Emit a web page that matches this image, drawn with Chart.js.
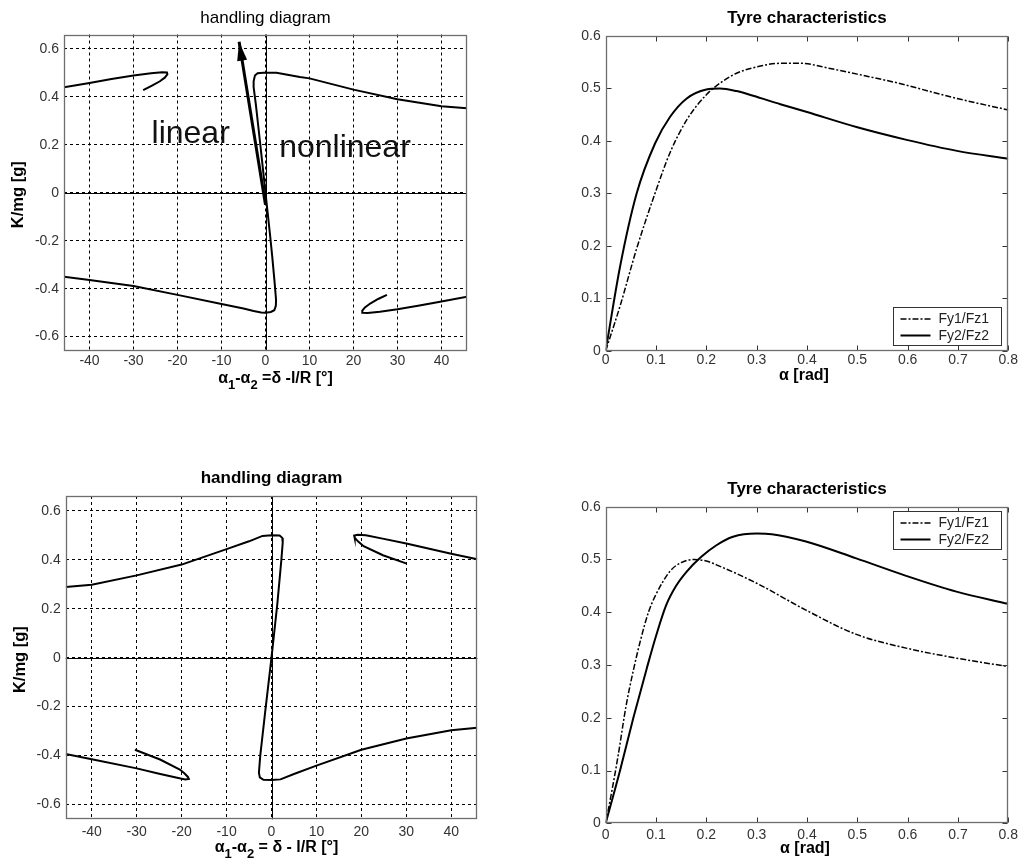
<!DOCTYPE html>
<html>
<head>
<meta charset="utf-8">
<script src="https://cdn.jsdelivr.net/npm/chart.js@4.4.1/dist/chart.umd.min.js"></script>
<style>
  html, body { margin: 0; padding: 0; background: #fff; }
  body { width: 1021px; height: 864px; position: relative; overflow: hidden; }
  canvas { position: absolute; }
</style>
</head>
<body>
<canvas id="hd1" width="510" height="430" style="left:0;top:0"></canvas>
<canvas id="ty1" width="511" height="430" style="left:510px;top:0"></canvas>
<canvas id="hd2" width="510" height="434" style="left:0;top:430px"></canvas>
<canvas id="ty2" width="511" height="434" style="left:510px;top:430px"></canvas>
<script>
// ticks
const hdTicksX = [-40, -30, -20, -10, 0, 10, 20, 30, 40];
const hdTicksY = [-0.6, -0.4, -0.2, 0, 0.2, 0.4, 0.6];
const tyTicksX = [0, 0.1, 0.2, 0.3, 0.4, 0.5, 0.6, 0.7, 0.8];
const tyTicksY = [0, 0.1, 0.2, 0.3, 0.4, 0.5, 0.6];

// handling diagram 1 (top)
const hd1MainX = [-45.8, -40, -30, -20, -10, -5, -2.7, -1, 0, 1.2, 2.0, 2.35, 2.4, 2.1, 1.5, 1.0, 0.5, 0, -0.5, -1.0, -1.6, -2.2, -2.7, -2.7, -2.4, -1.8, -0.5, 2.5, 7.8, 10, 20, 30, 40, 45.8];
const hd1MainY = [-0.35, -0.364, -0.389, -0.426, -0.464, -0.483, -0.493, -0.499, -0.5, -0.497, -0.49, -0.472, -0.447, -0.38, -0.26, -0.17, -0.085, 0, 0.085, 0.17, 0.27, 0.37, 0.44, 0.465, 0.489, 0.498, 0.5, 0.5, 0.483, 0.477, 0.43, 0.39, 0.361, 0.352];
const hd1UpperX = [-45.8, -40, -35, -30, -26, -23.5, -22.4, -22.3, -22.9, -24, -25.8, -27.8];
const hd1UpperY = [0.44, 0.458, 0.474, 0.489, 0.498, 0.503, 0.502, 0.494, 0.48, 0.465, 0.447, 0.428];
const hd1LowerX = [45.8, 40, 35, 30, 26, 23.2, 22.1, 22.0, 22.6, 23.8, 25.6, 27.6];
const hd1LowerY = [-0.434, -0.454, -0.47, -0.486, -0.496, -0.501, -0.5, -0.492, -0.478, -0.462, -0.443, -0.426];
const hd1ArrowX = [0, -6.0];
const hd1ArrowY = [-0.05, 0.63];

// handling diagram 2 (bottom)
const hd2MainX = [-45.8, -40, -30, -20, -10, -5, -2, 0, 1.8, 2.4, 2.5, 2.2, 1.3, 0, -1.4, -2.5, -2.8, -2.6, -1.8, 0, 2, 5, 10, 20, 30, 40, 45.8];
const hd2MainY = [0.288, 0.298, 0.336, 0.38, 0.443, 0.475, 0.497, 0.5, 0.499, 0.489, 0.47, 0.4, 0.22, 0, -0.22, -0.4, -0.47, -0.489, -0.499, -0.5, -0.497, -0.475, -0.441, -0.376, -0.33, -0.296, -0.286];
const hd2UpperX = [45.8, 40, 30, 25, 21, 19.2, 18.4, 18.5, 19.3, 20.5, 24.8, 30.1];
const hd2UpperY = [0.402, 0.424, 0.466, 0.485, 0.5, 0.502, 0.499, 0.49, 0.474, 0.455, 0.418, 0.384];
const hd2LowerX = [-45.8, -40, -30, -25, -21, -19.2, -18.4, -18.6, -19.4, -20.4, -24.8, -30.4];
const hd2LowerY = [-0.393, -0.415, -0.452, -0.474, -0.49, -0.497, -0.495, -0.487, -0.472, -0.457, -0.416, -0.376];

// tyre characteristics 1 (top)
const ty1Fy1X = [0, 0.0285, 0.0616, 0.098, 0.128, 0.161, 0.2, 0.23, 0.26, 0.3, 0.347, 0.386, 0.446, 0.506, 0.595, 0.645, 0.711, 0.8];
const ty1Fy1Y = [0, 0.085, 0.195, 0.30, 0.378, 0.44, 0.488, 0.512, 0.529, 0.541, 0.548, 0.548, 0.538, 0.526, 0.507, 0.494, 0.478, 0.459];
const ty1Fy2X = [0, 0.0285, 0.0616, 0.098, 0.128, 0.161, 0.2, 0.227, 0.26, 0.293, 0.347, 0.4, 0.5, 0.598, 0.698, 0.8];
const ty1Fy2Y = [0, 0.16, 0.30, 0.395, 0.446, 0.481, 0.498, 0.5, 0.495, 0.486, 0.470, 0.455, 0.426, 0.402, 0.381, 0.366];

// tyre characteristics 2 (bottom)
const ty2Fy1X = [0, 0.012, 0.025, 0.04, 0.055, 0.07, 0.085, 0.098, 0.128, 0.15, 0.175, 0.2, 0.227, 0.3, 0.398, 0.498, 0.597, 0.697, 0.8];
const ty2Fy1Y = [0, 0.06, 0.13, 0.22, 0.29, 0.35, 0.40, 0.43, 0.478, 0.494, 0.5, 0.497, 0.487, 0.455, 0.404, 0.358, 0.332, 0.313, 0.297];
const ty2Fy2X = [0, 0.0285, 0.055, 0.082, 0.1, 0.12, 0.14, 0.161, 0.19, 0.22, 0.253, 0.3, 0.33, 0.398, 0.498, 0.597, 0.697, 0.8];
const ty2Fy2Y = [0, 0.1, 0.2, 0.295, 0.355, 0.413, 0.45, 0.477, 0.505, 0.527, 0.543, 0.549, 0.548, 0.534, 0.502, 0.469, 0.439, 0.416];

const FONT = '"Liberation Sans", Arial, sans-serif';
const pts = (xs, ys) => xs.map((x, i) => ({ x: x, y: ys[i] }));

const line = (xs, ys, extra) => Object.assign({
  data: pts(xs, ys), showLine: true, pointRadius: 0, borderColor: '#000',
  borderWidth: 2, fill: false, tension: 0
}, extra || {});

// draws the matlab style extras: frame, titles, legend, zero lines...
function matlabPlugin(cfg) {
  return {
    id: 'matlab',
    beforeDatasetsDraw(chart) {
      if (!cfg.zeroLines) return;
      const { ctx, chartArea: a, scales: { x, y } } = chart;
      ctx.save();
      ctx.strokeStyle = '#000';
      ctx.lineWidth = 1;
      const px = Math.round(x.getPixelForValue(0)) + 0.5;
      const py = Math.round(y.getPixelForValue(0)) + 0.5;
      ctx.beginPath();
      ctx.moveTo(px, a.top); ctx.lineTo(px, a.bottom);
      ctx.moveTo(a.left, py); ctx.lineTo(a.right, py);
      ctx.stroke();
      ctx.restore();
    },
    afterDatasetsDraw(chart) {
      const { ctx, scales: { x, y } } = chart;
      ctx.save();
      if (cfg.arrow) {
        const [x0, x1] = cfg.arrow[0], [y0, y1] = cfg.arrow[1];
        const ax = x.getPixelForValue(x0), ay = y.getPixelForValue(y0);
        const bx = x.getPixelForValue(x1), by = y.getPixelForValue(y1);
        const ang = Math.atan2(by - ay, bx - ax);
        const L = 19, W = 5;
        ctx.fillStyle = '#000';
        ctx.beginPath();
        ctx.moveTo(bx, by);
        ctx.lineTo(bx - L * Math.cos(ang) + W * Math.sin(ang), by - L * Math.sin(ang) - W * Math.cos(ang));
        ctx.lineTo(bx - L * Math.cos(ang) - W * Math.sin(ang), by - L * Math.sin(ang) + W * Math.cos(ang));
        ctx.closePath();
        ctx.fill();
      }
      (cfg.notes || []).forEach(n => {
        ctx.font = '32px ' + FONT;
        ctx.fillStyle = '#111';
        ctx.textAlign = 'left';
        ctx.textBaseline = 'alphabetic';
        ctx.fillText(n.text, x.getPixelForValue(n.x), y.getPixelForValue(n.y));
      });
      ctx.restore();
    },
    afterDraw(chart) {
      const { ctx, chartArea: a, scales: { x, y } } = chart;
      const L = Math.round(a.left) + 0.5, R = Math.round(a.right) - 0.5;
      const T = Math.round(a.top) + 0.5, B = Math.round(a.bottom) - 0.5;
      ctx.save();
      // inward ticks
      if (cfg.innerTicks) {
        ctx.strokeStyle = '#333';
        ctx.lineWidth = 1;
        ctx.beginPath();
        x.ticks.forEach(t => {
          const p = Math.round(x.getPixelForValue(t.value)) + 0.5;
          ctx.moveTo(p, B); ctx.lineTo(p, B - 5);
          ctx.moveTo(p, T); ctx.lineTo(p, T + 5);
        });
        y.ticks.forEach(t => {
          const p = Math.round(y.getPixelForValue(t.value)) + 0.5;
          ctx.moveTo(L, p); ctx.lineTo(L + 5, p);
          ctx.moveTo(R, p); ctx.lineTo(R - 5, p);
        });
        ctx.stroke();
      }
      // box
      ctx.strokeStyle = '#6e6e6e';
      ctx.lineWidth = 1.3;
      ctx.strokeRect(L, T, R - L, B - T);

      // title
      ctx.fillStyle = '#000';
      ctx.font = (cfg.titleBold ? 'bold ' : '') + '17px ' + FONT;
      ctx.textAlign = 'center';
      ctx.textBaseline = 'middle';
      ctx.fillText(cfg.title, (a.left + a.right) / 2, a.top - cfg.titleGap);

      // x label with subscripts
      const main = 'bold 16px ' + FONT, sub = 'bold 13px ' + FONT;
      let w = 0;
      cfg.xLabel.forEach(p => { ctx.font = p.sub ? sub : main; w += ctx.measureText(p.t).width; });
      let cx = (a.left + a.right) / 2 + cfg.xLabelShift - w / 2;
      const base = a.bottom + cfg.xLabelGap;
      ctx.textAlign = 'left';
      ctx.textBaseline = 'alphabetic';
      cfg.xLabel.forEach(p => {
        ctx.font = p.sub ? sub : main;
        ctx.fillText(p.t, cx, base + (p.sub ? 6 : 0));
        cx += ctx.measureText(p.t).width;
      });

      // y label
      if (cfg.yLabel) {
        ctx.save();
        ctx.translate(a.left - cfg.yLabelGap, (a.top + a.bottom) / 2 + 2);
        ctx.rotate(-Math.PI / 2);
        ctx.font = 'bold 16.5px ' + FONT;
        ctx.textAlign = 'center';
        ctx.textBaseline = 'middle';
        ctx.fillText(cfg.yLabel, 0, 0);
        ctx.restore();
      }

      // legend
      if (cfg.legend) {
        const lw = 108, lh = 38;
        const lx = Math.round(a.right - 7 - lw) + 0.5;
        const ly = Math.round(cfg.legend.top ? a.top + 4.5 : a.bottom - 6 - lh) + 0.5;
        ctx.fillStyle = '#fff';
        ctx.fillRect(lx, ly, lw, lh);
        ctx.strokeStyle = '#333';
        ctx.lineWidth = 1;
        ctx.strokeRect(lx, ly, lw, lh);
        chart.data.datasets.forEach((ds, i) => {
          const ry = ly + 11.5 + i * 16.5;
          ctx.strokeStyle = '#000';
          ctx.lineWidth = ds.borderWidth;
          ctx.setLineDash(ds.borderDash || []);
          ctx.beginPath();
          ctx.moveTo(lx + 7, ry); ctx.lineTo(lx + 37, ry);
          ctx.stroke();
          ctx.setLineDash([]);
          ctx.fillStyle = '#222';
          ctx.font = '14px ' + FONT;
          ctx.textAlign = 'left';
          ctx.textBaseline = 'middle';
          ctx.fillText(ds.label, lx + 45, ry + 0.5);
        });
      }
      ctx.restore();
    }
  };
}

function makeChart(id, cfg) {
  const cv = document.getElementById(id);
  const W = cv.width, H = cv.height, a = cfg.area;
  const xh = 20;
  const tickFont = { family: FONT, size: 14 };
  new Chart(cv, {
    type: 'scatter',
    data: { datasets: cfg.datasets },
    options: {
      responsive: false,
      animation: false,
      devicePixelRatio: 1,
      events: [],
      layout: { padding: { left: 0, top: a.top, right: W - a.right, bottom: H - a.bottom - xh } },
      plugins: { legend: { display: false }, tooltip: { enabled: false } },
      scales: {
        x: {
          type: 'linear', position: 'bottom', min: cfg.xRange[0], max: cfg.xRange[1],
          afterBuildTicks: s => { s.ticks = cfg.xTicks.map(v => ({ value: v })); },
          afterFit: s => { s.height = xh; },
          grid: { display: cfg.grid, color: '#000', lineWidth: 1, drawTicks: false },
          border: { display: false, dash: [3, 3] },
          ticks: { autoSkip: false, maxRotation: 0, padding: cfg.xTickPad, color: '#333', font: tickFont, callback: v => String(v) }
        },
        y: {
          type: 'linear', position: 'left', min: cfg.yRange[0], max: cfg.yRange[1],
          afterBuildTicks: s => { s.ticks = cfg.yTicks.map(v => ({ value: v })); },
          afterFit: s => { s.width = a.left; },
          grid: { display: cfg.grid, color: '#000', lineWidth: 1, drawTicks: false },
          border: { display: false, dash: [3, 3] },
          ticks: { autoSkip: false, padding: 5, color: '#333', font: tickFont, callback: v => String(v) }
        }
      }
    },
    plugins: [matlabPlugin(cfg)]
  });
}

const hdXLabel1 = [{ t: 'α' }, { t: '1', sub: true }, { t: '-α' }, { t: '2', sub: true }, { t: ' =δ -l/R [°]' }];
const hdXLabel2 = [{ t: 'α' }, { t: '1', sub: true }, { t: '-α' }, { t: '2', sub: true }, { t: ' = δ - l/R [°]' }];
const tyXLabel = [{ t: 'α [rad]' }];

makeChart('hd1', {
  area: { left: 64, top: 34.5, right: 467, bottom: 351 },
  xRange: [-45.8, 45.8], yRange: [-0.66, 0.66], xTicks: hdTicksX, yTicks: hdTicksY,
  grid: true, zeroLines: true, xTickPad: 2,
  title: 'handling diagram', titleBold: false, titleGap: 16.5,
  xLabel: hdXLabel1, xLabelShift: 10, xLabelGap: 32,
  yLabel: 'K/mg [g]', yLabelGap: 46,
  arrow: [hd1ArrowX, hd1ArrowY],
  notes: [{ text: 'linear', x: -25.9, y: 0.206 }, { text: 'nonlinear', x: 3.1, y: 0.149 }],
  datasets: [
    line(hd1MainX, hd1MainY), line(hd1UpperX, hd1UpperY), line(hd1LowerX, hd1LowerY),
    line(hd1ArrowX, hd1ArrowY, { borderWidth: 3 })
  ]
});

makeChart('ty1', {
  area: { left: 95.7, top: 36, right: 498.3, bottom: 350.7 },
  xRange: [0, 0.8], yRange: [0, 0.6], xTicks: tyTicksX, yTicks: tyTicksY,
  grid: false, innerTicks: true, xTickPad: 1,
  title: 'Tyre characteristics', titleBold: true, titleGap: 18,
  xLabel: tyXLabel, xLabelShift: -3, xLabelGap: 29,
  legend: { top: false },
  datasets: [
    line(ty1Fy1X, ty1Fy1Y, { label: 'Fy1/Fz1', borderWidth: 1.5, borderDash: [6, 2, 2, 2], cubicInterpolationMode: 'monotone' }),
    line(ty1Fy2X, ty1Fy2Y, { label: 'Fy2/Fz2', borderWidth: 2, cubicInterpolationMode: 'monotone' })
  ]
});

makeChart('hd2', {
  area: { left: 65.7, top: 66, right: 477.3, bottom: 389.3 },
  xRange: [-45.8, 45.8], yRange: [-0.66, 0.66], xTicks: hdTicksX, yTicks: hdTicksY,
  grid: true, zeroLines: true, xTickPad: 4,
  title: 'handling diagram', titleBold: true, titleGap: 18,
  xLabel: hdXLabel2, xLabelShift: 5, xLabelGap: 33,
  yLabel: 'K/mg [g]', yLabelGap: 45,
  datasets: [line(hd2MainX, hd2MainY), line(hd2UpperX, hd2UpperY), line(hd2LowerX, hd2LowerY)]
});

makeChart('ty2', {
  area: { left: 95.7, top: 76.7, right: 499, bottom: 393.3 },
  xRange: [0, 0.8], yRange: [0, 0.6], xTicks: tyTicksX, yTicks: tyTicksY,
  grid: false, innerTicks: true, xTickPad: 3,
  title: 'Tyre characteristics', titleBold: true, titleGap: 17.4,
  xLabel: tyXLabel, xLabelShift: -2, xLabelGap: 30,
  legend: { top: true },
  datasets: [
    line(ty2Fy1X, ty2Fy1Y, { label: 'Fy1/Fz1', borderWidth: 1.5, borderDash: [6, 2, 2, 2], cubicInterpolationMode: 'monotone' }),
    line(ty2Fy2X, ty2Fy2Y, { label: 'Fy2/Fz2', borderWidth: 2, cubicInterpolationMode: 'monotone' })
  ]
});
</script>
</body>
</html>
